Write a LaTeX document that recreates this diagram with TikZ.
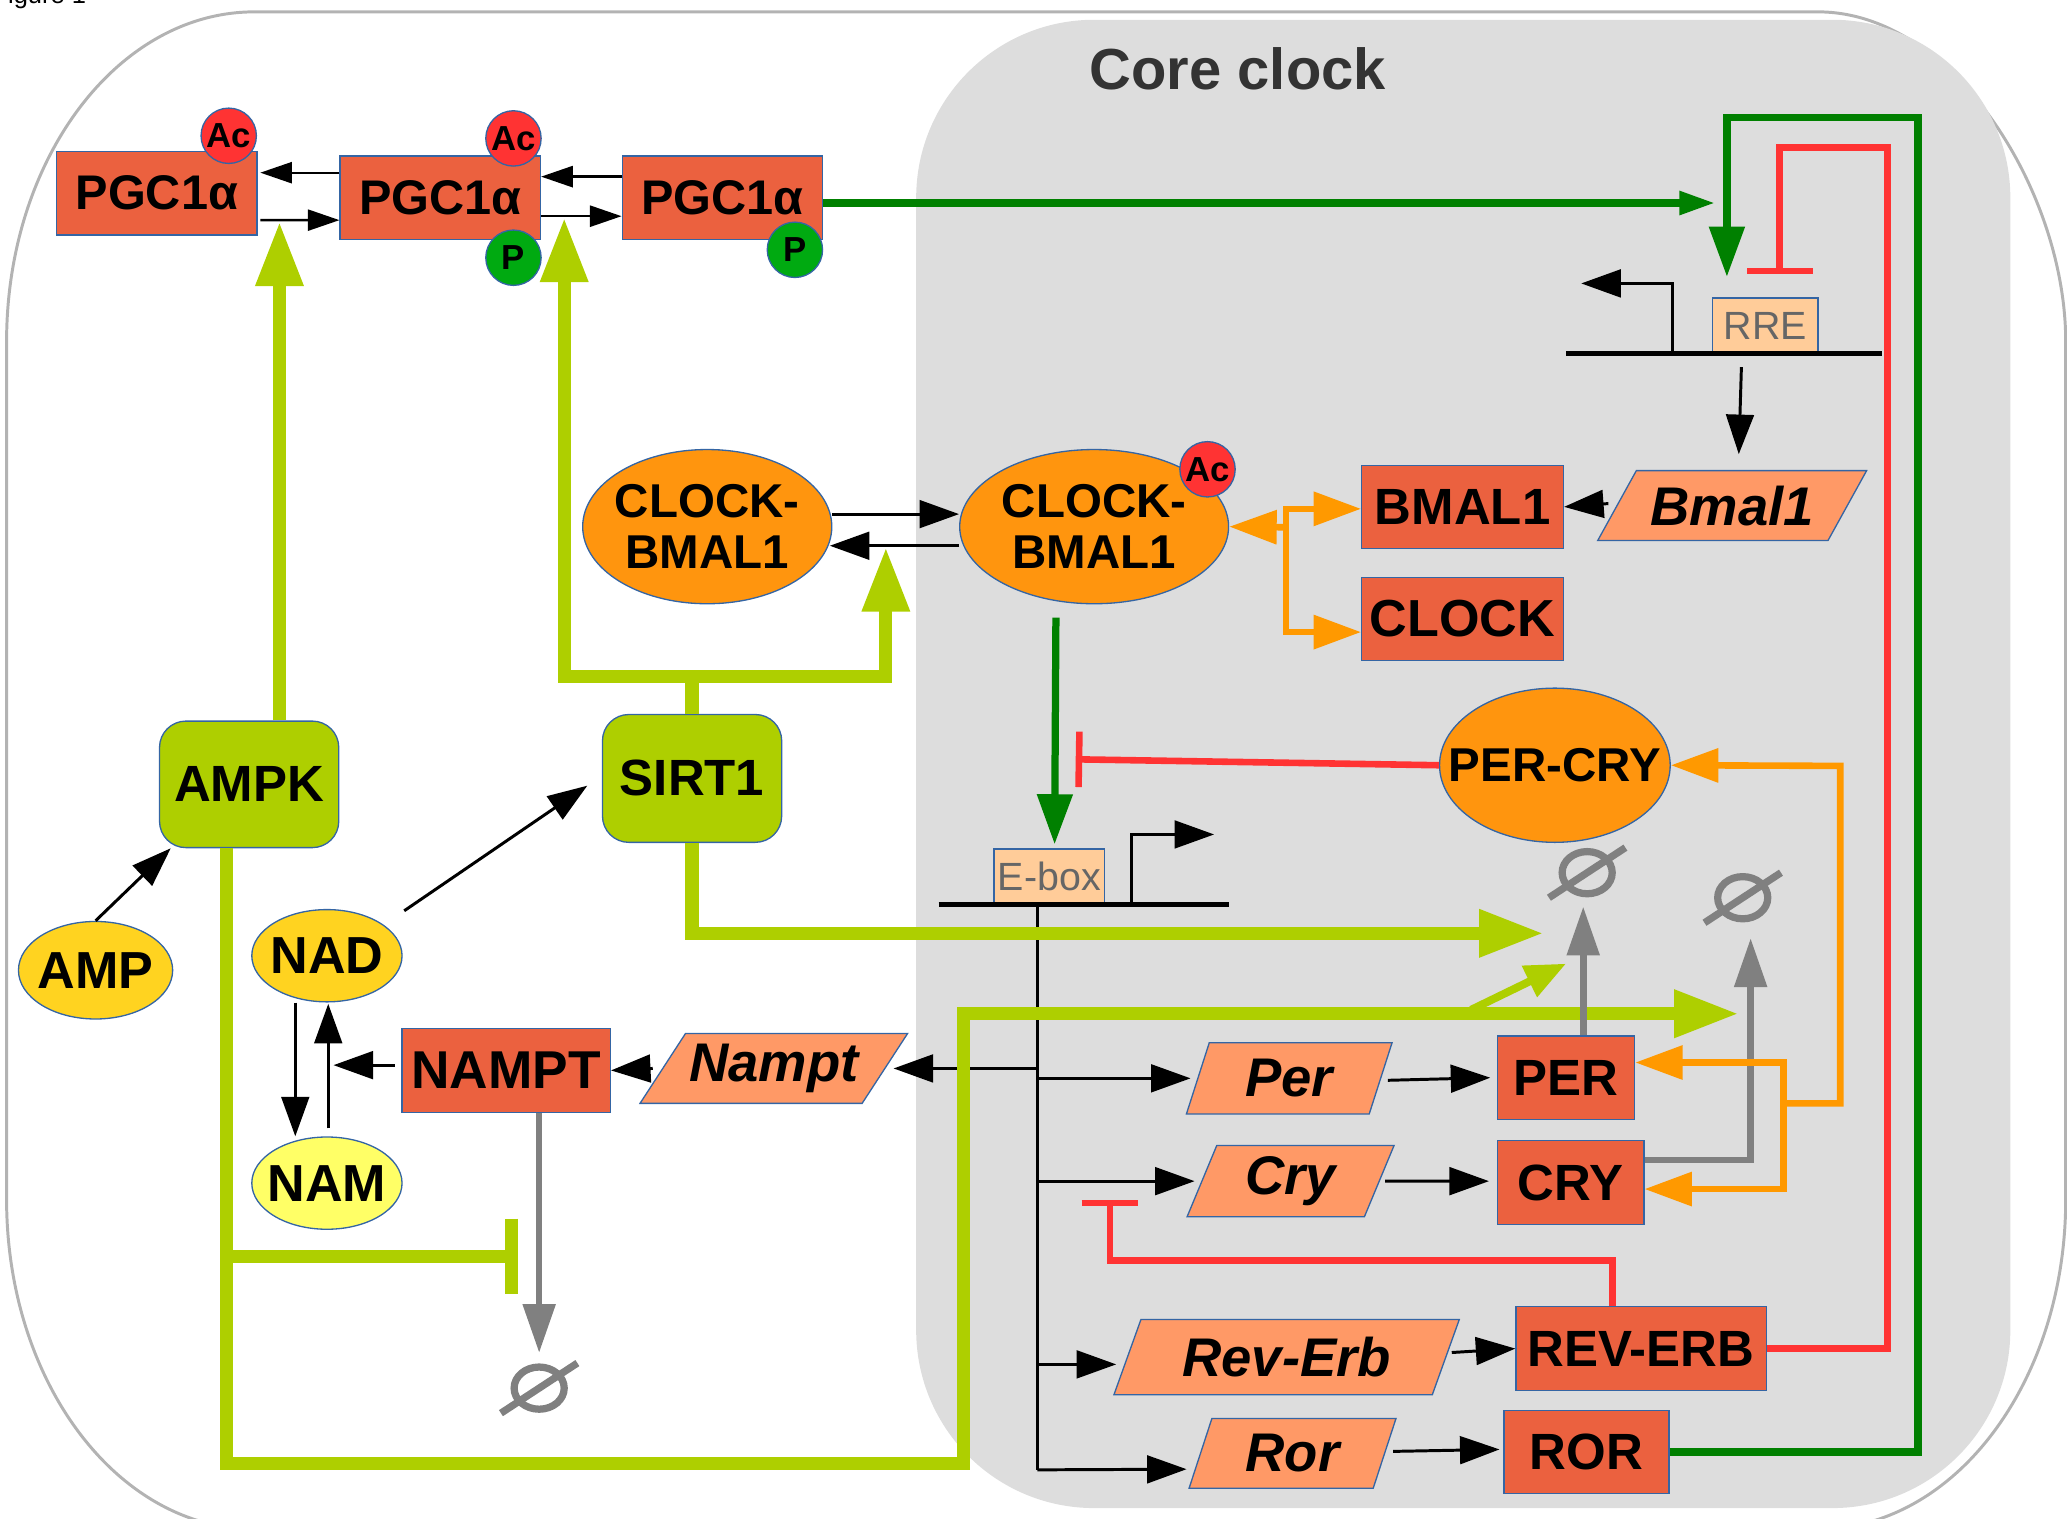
\documentclass[tikz,border=0pt]{standalone}
\usepackage{fontspec}
\setmainfont{Liberation Sans}
\usepackage{tikz}
\usetikzlibrary{shapes.geometric, arrows.meta, positioning, calc}

\definecolor{protred}{RGB}{235,97,63}
\definecolor{genesalmon}{RGB}{255,153,102}
\definecolor{cplxorange}{RGB}{255,149,14}
\definecolor{acred}{RGB}{255,51,51}
\definecolor{pgreen}{RGB}{0,170,17}
\definecolor{kinlime}{RGB}{174,207,0}
\definecolor{dkgreen}{RGB}{0,128,0}
\definecolor{metyellow}{RGB}{255,211,32}
\definecolor{namyellow}{RGB}{255,255,102}
\definecolor{coregray}{RGB}{221,221,221}
\definecolor{framegray}{RGB}{179,179,179}
\definecolor{edgeblue}{RGB}{52,101,164}
\definecolor{inhred}{RGB}{255,51,51}
\definecolor{orgline}{RGB}{255,153,0}
\definecolor{sinkgray}{RGB}{128,128,128}
\definecolor{elempeach}{RGB}{255,204,153}
\definecolor{elemtext}{RGB}{102,102,102}
\definecolor{titlegray}{RGB}{51,51,51}

\newcommand{\zw}[1]{\makebox[0pt]{#1}}

\begin{document}
\begin{tikzpicture}[x=0.02cm, y=-0.02cm,
    prot/.style={rectangle, draw=edgeblue, line width=0.02cm, fill=protred, inner sep=0pt, font=\fontsize{22}{24}\selectfont\bfseries},
    pgc/.style={prot, minimum width=3.04cm, minimum height=1.27cm, font=\fontsize{21}{24}\selectfont\bfseries},
    gene/.style={trapezium, trapezium stretches body, draw=edgeblue, line width=0.02cm, fill=genesalmon, inner sep=0pt, font=\fontsize{23.5}{26}\selectfont\bfseries\itshape},
    cplx/.style={ellipse, draw=edgeblue, line width=0.02cm, fill=cplxorange, inner sep=0pt, align=center, font=\fontsize{20.5}{22}\selectfont\bfseries},
    kin/.style={rectangle, rounded corners=0.4cm, draw=edgeblue, line width=0.02cm, fill=kinlime, inner sep=0pt, font=\fontsize{22}{24}\selectfont\bfseries},
    metab/.style={ellipse, draw=edgeblue, line width=0.02cm, fill=metyellow, inner sep=0pt, font=\fontsize{22.5}{24}\selectfont\bfseries},
    ac_mod/.style={circle, draw=edgeblue, line width=0.02cm, fill=acred, inner sep=0pt, minimum size=0.84cm, font=\fontsize{15}{16}\selectfont\bfseries},
    p_mod/.style={ac_mod, fill=pgreen},
    elem/.style={rectangle, draw=edgeblue, line width=0.02cm, fill=elempeach, text=elemtext, inner sep=0pt, font=\fontsize{17}{18}\selectfont},
    sink/.style={ellipse, draw=sinkgray, line width=0.11cm, minimum width=0.76cm, minimum height=0.64cm, inner sep=0pt},
    dna/.style={draw=black, line width=0.07cm},
    act/.style={draw=black, line width=0.045cm, -{Triangle[length=0.6cm,width=0.42cm]}},
    act_s/.style={draw=black, line width=0.035cm, -{Triangle[length=0.48cm,width=0.32cm]}},
    lime_act/.style={draw=kinlime, line width=0.2cm, -{Triangle[length=0.98cm,width=0.68cm]}},
    lime_both/.style={draw=kinlime, line width=0.2cm, {Triangle[length=0.98cm,width=0.68cm]}-{Triangle[length=0.98cm,width=0.68cm]}},
    lime_act_s/.style={draw=kinlime, line width=0.12cm, -{Triangle[length=0.62cm,width=0.5cm]}},
    lime_inh/.style={draw=kinlime, line width=0.2cm, -{Bar[width=1.14cm]}},
    grn_act/.style={draw=dkgreen, line width=0.11cm, -{Triangle[length=0.76cm,width=0.52cm]}},
    grn_act_s/.style={draw=dkgreen, line width=0.11cm, -{Triangle[length=0.54cm,width=0.34cm]}},
    red_inh/.style={draw=inhred, line width=0.1cm, -{Bar[width=#1]}},
    org_act/.style={draw=orgline, line width=0.1cm, -{Triangle[length=0.72cm,width=0.5cm]}},
    org_both/.style={draw=orgline, line width=0.1cm, {Triangle[length=0.72cm,width=0.5cm]}-{Triangle[length=0.72cm,width=0.5cm]}},
    gray_act/.style={draw=sinkgray, line width=0.1cm, -{Triangle[length=0.74cm,width=0.48cm]}}
]
\useasboundingbox (0,0) rectangle (1568,1152);

% cell and core clock compartment
\draw[framegray, line width=0.045cm] (5,259) .. controls (5,121) and (89,9) .. (193,9) -- (1379,9)
    .. controls (1483,9) and (1567,147) .. (1567,259) -- (1567,910)
    .. controls (1567,1048) and (1483,1160) .. (1379,1160) -- (193,1160)
    .. controls (89,1160) and (5,1048) .. (5,910) -- cycle;
\fill[coregray, rounded corners=2.7cm] (695,15) rectangle (1525,1144);
\node[anchor=base west, inner sep=0pt, font=\fontsize{11}{12}\selectfont] (figlabel) at (-6,3) {Figure 1};
\node[font=\fontsize{25}{28}\selectfont\bfseries, text=titlegray] (coretitle) at (939,52) {Core clock};

% PGC1a states
\node[pgc] (pgcA) at (119,146.5) {PGC1α};
\node[pgc] (pgcB) at (334,150) {PGC1α};
\node[pgc] (pgcC) at (548,150) {PGC1α};
\node[ac_mod] (acA) at (173.5,103) {Ac};
\node[ac_mod] (acB) at (389.5,105) {Ac};
\node[p_mod] (pB) at (389.5,195.5) {P};
\node[p_mod] (pC) at (603,189.5) {P};

% complexes and core clock proteins
\node[cplx, minimum width=3.78cm, minimum height=2.34cm] (clkA) at (536.5,399.5) {\zw{CLOCK-}\\\zw{BMAL1}};
\node[cplx, minimum width=4.08cm, minimum height=2.34cm] (clkB) at (830,399.5) {\zw{CLOCK-}\\\zw{BMAL1}};
\node[ac_mod] (acC) at (916,356) {Ac};
\node[prot, minimum width=3.06cm, minimum height=1.26cm] (bmal) at (1109.5,384.5) {BMAL1};
\node[prot, minimum width=3.06cm, minimum height=1.26cm, font=\fontsize{22.5}{24}\selectfont\bfseries] (clock) at (1109.5,469.5) {CLOCK};
\node[gene, trapezium left angle=46, trapezium right angle=134, minimum width=4.08cm, minimum height=1.06cm] (bmalg) at (1314,383.5) {Bmal1};
\node[elem, minimum width=1.6cm, minimum height=0.84cm] (rre) at (1339,247) {RRE};
\node[elem, minimum width=1.68cm, minimum height=0.82cm] (ebox) at (796,664.5) {E-box};
\node[cplx, minimum width=3.5cm, minimum height=2.34cm] (percry) at (1179.5,580.5) {\zw{PER-CRY}};

% energy sensors
\node[kin, minimum width=2.72cm, minimum height=1.92cm] (ampk) at (189,595) {AMPK};
\node[kin, minimum width=2.72cm, minimum height=1.94cm] (sirt) at (525,590.5) {SIRT1};
\node[metab, minimum width=2.34cm, minimum height=1.48cm] (amp) at (72.5,736) {\zw{AMP}};
\node[metab, minimum width=2.28cm, minimum height=1.4cm] (nad) at (248,725) {\zw{NAD}};
\node[metab, fill=namyellow, minimum width=2.28cm, minimum height=1.4cm] (nam) at (248,897.5) {\zw{NAM}};
\node[prot, minimum width=3.16cm, minimum height=1.28cm, font=\fontsize{23}{24}\selectfont\bfseries] (nampt) at (384,812) {NAMPT};
\node[gene, trapezium left angle=47, trapezium right angle=133, minimum width=4.06cm, minimum height=1.06cm] (namptg) at (587,810.5) {Nampt};

% clock-controlled genes
\node[gene, trapezium left angle=59, trapezium right angle=121, minimum width=3.12cm, minimum height=1.08cm] (perg) at (978,818) {Per};
\node[gene, trapezium left angle=59, trapezium right angle=121, minimum width=3.14cm, minimum height=1.08cm] (cryg) at (979,896) {Cry};
\node[gene, trapezium left angle=56, trapezium right angle=124, minimum width=5.24cm, minimum height=1.14cm] (reverbg) at (976,1029.5) {Rev-Erb};
\node[gene, trapezium left angle=59, trapezium right angle=121, minimum width=3.14cm, minimum height=1.06cm] (rorg) at (980.5,1102.5) {Ror};
\node[prot, minimum width=2.08cm, minimum height=1.26cm] (per) at (1188,817.5) {PER};
\node[prot, minimum width=2.22cm, minimum height=1.28cm] (cry) at (1191.5,897) {CRY};
\node[prot, minimum width=3.8cm, minimum height=1.28cm] (reverb) at (1245,1023) {REV-ERB};
\node[prot, minimum width=2.5cm, minimum height=1.26cm] (ror) at (1203.5,1101.5) {ROR};

% degradation
\node[sink] (deg1) at (1204,662) {};
\node[sink] (deg2) at (1322,681) {};
\node[sink] (deg3) at (409,1053) {};
\foreach \d in {deg1,deg2,deg3}
    \draw[sinkgray, line width=0.11cm] ($(\d.center)+(-29,19)$) -- ($(\d.center)+(29,-19)$);

% free ends and bends
\coordinate (cyc) at (253,808);
\coordinate (eboxL) at (712,686);
\coordinate (eboxR) at (932,686);
\coordinate (eboxTSS) at (858,686);
\coordinate (eboxTSSend) at (921,633);
\coordinate (vtop) at (787,686);
\coordinate (vbot) at (787,1115);
\coordinate (rreL) at (1188,268);
\coordinate (rreR) at (1428,268);
\coordinate (rreTSS) at (1268.5,268);
\coordinate (rreTSSend) at (1199.5,215);
\coordinate (pgcAB) at (212,168);
\coordinate (pgcBC) at (428,165);
\coordinate (sirtJ) at (525,513);
\coordinate (clkAB) at (672,415);
\coordinate (perDeg) at (1171,708);
\coordinate (limeBL) at (731,1110);
\coordinate (cryDeg) at (1319,769);
\coordinate (ampkJ) at (172,953);
\coordinate (namptDeg) at (393,953);
\coordinate (diagS) at (1116,766);
\coordinate (diagT) at (1188,731);
\coordinate (rreAct) at (1301,154);
\coordinate (rorTop) at (1455,89);
\coordinate (rreAct2) at (1310,210);
\coordinate (revTop) at (1432,112);
\coordinate (rreInh) at (1350,208);
\coordinate (eboxInh) at (816,576);
\coordinate (revBend) at (842,956);
\coordinate (cryInh) at (842,910);
\coordinate (oJ) at (975.5,400);
\coordinate (oT) at (975.5,386);
\coordinate (oB) at (975.5,479.5);
\coordinate (oP) at (1353,806);
\coordinate (oC) at (1353,902);
\coordinate (oJ2) at (1353,837);
\coordinate (oR) at (1396,581);

% black reactions
\draw[act_s] ($(pgcB.west)+(0,-19)$) -- ($(pgcA.east)+(2,-15.5)$);
\draw[act_s] ($(pgcA.east)+(2,20.5)$) -- ($(pgcB.west)+(0,17)$);
\draw[act_s] ($(pgcC.west)+(0,-16)$) -- ($(pgcB.east)+(0,-16)$);
\draw[act_s] ($(pgcB.east)+(0,14)$) -- ($(pgcC.west)+(0,14)$);
\draw[act] ($(clkA.east)+(0,-9.5)$) -- ($(clkB.west)+(0,-9.5)$);
\draw[act] ($(clkB.west)+(0,14.5)$) -- ($(clkA.east)+(-2,14.5)$);
\draw[act] (amp.north) -- ($(ampk.south west)+(9,0)$);
\draw[act] ($(nad.north east)+(18,-9)$) -- ($(sirt.west)+(-11,5.5)$);
\draw[act] ($(nad.south)+(-24,0)$) -- ($(nam.north)+(-24,0)$);
\draw[act] ($(nam.north)+(1,-6)$) -- ($(nad.south)+(1,1)$);
\draw[act] ($(nampt.west)+(-5,-4)$) -- (cyc);
\draw[act] ($(namptg.west)+(-7,0)$) -- (nampt.east);

% promoters
\draw[dna] (eboxL) -- (eboxR);
\draw[act] (eboxTSS) |- (eboxTSSend);
\draw[act] (rreTSS) |- (rreTSSend);
\draw[dna] (rreL) -- (rreR);
\draw[black, line width=0.04cm] (vtop) -- (vbot);
\draw[act] (vtop |- namptg.east) -- ($(namptg.east)+(6,0)$);
\draw[act] (vtop |- perg.west) -- ($(perg.west)+(-5,0)$);
\draw[act] (vtop |- cryg.west) -- ($(cryg.west)+(-5,0)$);
\draw[act] ($(vtop |- reverbg.west)+(0,5.5)$) -- ($(reverbg.west)+(-8,5.5)$);
\draw[act] (vbot) -- ($(rorg.west)+(-10,12)$);
\draw[act] ($(perg.east)+(5,1.5)$) -- ($(per.west)+(-5,0)$);
\draw[act] ($(cryg.east)+(4,0)$) -- ($(cry.west)+(-6,-1)$);
\draw[act] ($(reverbg.east)+(4,-3.5)$) -- (reverb.west);
\draw[act] ($(rorg.east)+(6,-1.5)$) -- ($(ror.west)+(-3,-2)$);
\draw[act] ($(bmalg.west)+(-6,-1.5)$) -- (bmal.east);
\draw[act] ($(rre.south)+(-18,10)$) -- ($(bmalg.north)+(5,-12)$);

% AMPK / SIRT1 effects
\draw[lime_act] (ampk.north -| pgcAB) -- (pgcAB);
\draw[lime_both] (pgcBC) |- (sirtJ) -| (clkAB);
\draw[kinlime, line width=0.2cm] (sirt.north) -- (sirtJ);
\draw[lime_act] (sirt.south) |- (perDeg);
\draw[lime_act] ($(ampk.south)+(-17,0)$) |- (limeBL) |- (cryDeg);
\draw[lime_inh] (ampkJ) -- (namptDeg);
\draw[lime_act_s] (diagS) -- (diagT);

% activation and repression of the loci
\draw[grn_act_s] (pgcC.east |- rreAct) -- (rreAct);
\draw[grn_act] (ror.east) -| (rorTop) -| (rreAct2);
\draw[grn_act] ($(clkB.south)+(-29,10)$) -- ($(ebox.north)+(4,-3)$);
\draw[red_inh=1.0cm] (reverb.east) -| (revTop) -| (rreInh);
\draw[red_inh=0.84cm] (percry.west) -- (eboxInh);
\draw[red_inh=0.86cm] ($(reverb.north)+(-22,0)$) |- (revBend) -- (cryInh);

% degradation
\draw[gray_act] ($(per.north)+(13,0)$) -- ($(deg1.south)+(-3,7)$);
\draw[gray_act] ($(cry.east)+(0,-17)$) -| ($(deg2.south)+(6,12)$);
\draw[gray_act] ($(nampt.south)+(25,0)$) -- ($(deg3.north)+(0,-8)$);

% complex formation
\draw[org_act] (oJ) -- (clkB.east);
\draw[org_both] (bmal.west |- oT) -- (oT) -- (oB) -- (clock.west |- oB);
\draw[org_both] (per.east |- oP) -- (oP) -- (oC) -- (cry.east |- oC);
\draw[org_act] (oJ2) -| (oR) -- (percry.east);

\end{tikzpicture}
\end{document}
